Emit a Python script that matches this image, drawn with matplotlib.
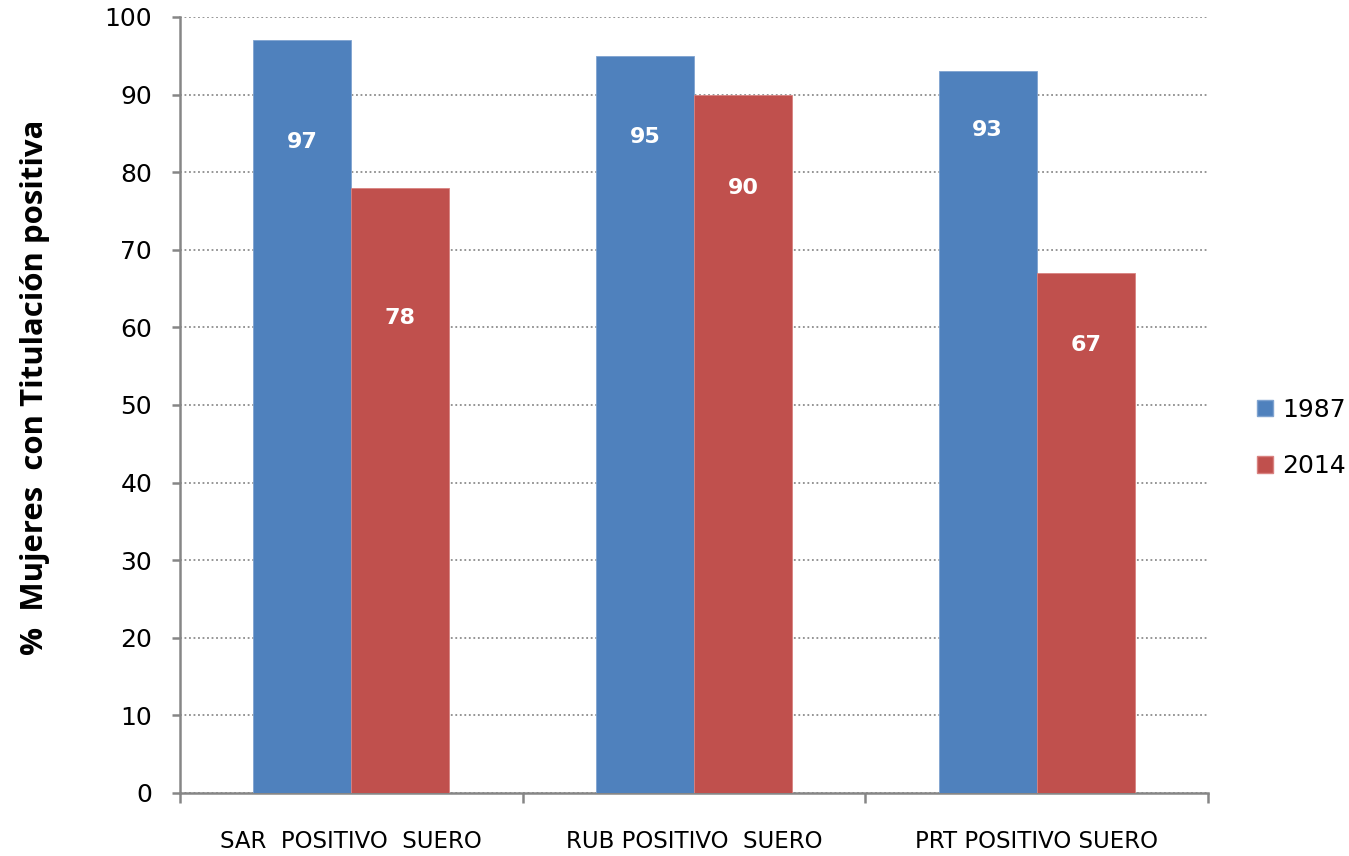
import matplotlib
matplotlib.use("Agg")
import matplotlib.pyplot as plt
from matplotlib.patches import Patch
import numpy as np

categories = ["SAR  POSITIVO  SUERO", "RUB POSITIVO  SUERO", "PRT POSITIVO SUERO"]
series_names = ["1987", "2014"]
values_1987 = [97, 95, 93]
values_2014 = [78, 90, 67]
y_ticks = [0, 10, 20, 30, 40, 50, 60, 70, 80, 90, 100]
y_label = "%  Mujeres  con Titulación positiva"

# heights at which the value labels sit inside the bars
label_y_1987 = [83.9, 84.5, 85.4]
label_y_2014 = [61.2, 78.0, 57.7]

blue = "#4F81BD"
red = "#C0504D"
axis_gray = "#868686"

fig = plt.figure(figsize=(13.49, 8.56), dpi=100)
ax = fig.add_axes([180 / 1349, 1 - 793 / 856, (1208 - 180) / 1349, (793 - 17) / 856])

x = np.arange(len(categories))
w = 0.286
ax.bar(x - w / 2, values_1987, w, color=blue, edgecolor="#7FA3D0", linewidth=0.6, zorder=3)
ax.bar(x + w / 2, values_2014, w, color=red, edgecolor="#D98280", linewidth=0.6, zorder=3)

for xi, v, ly in zip(x - w / 2, values_1987, label_y_1987):
    ax.text(xi, ly, f"{v}", ha="center", va="center", color="white",
            fontsize=16, fontweight="bold", zorder=4)
for xi, v, ly in zip(x + w / 2, values_2014, label_y_2014):
    ax.text(xi, ly, f"{v}", ha="center", va="center", color="white",
            fontsize=16, fontweight="bold", zorder=4)

ax.set_xlim(-0.5, len(categories) - 0.5)
ax.set_ylim(0, 100)
ax.set_yticks(y_ticks)
ax.set_yticklabels([str(t) for t in y_ticks], fontsize=18)
ax.yaxis.grid(True, linestyle=(0, (1, 1.5)), color="#8C8C8C", linewidth=1.3, zorder=0)
ax.set_axisbelow(True)

ax.set_xticks(x)
ax.set_xticklabels(categories, fontsize=16.5)
ax.set_xticks(np.arange(len(categories) + 1) - 0.5, minor=True)
ax.tick_params(axis="x", which="major", length=0, pad=27)
ax.tick_params(axis="x", which="minor", length=7, width=1.8, color=axis_gray, direction="out")
ax.tick_params(axis="y", length=6, width=1.8, color=axis_gray, direction="out", pad=14)

for side in ["top", "right"]:
    ax.spines[side].set_visible(False)
for side in ["left", "bottom"]:
    ax.spines[side].set_color(axis_gray)
    ax.spines[side].set_linewidth(1.8)

fig.text(35 / 1349, 1 - 387 / 856, y_label, rotation=90, ha="center", va="center",
         fontsize=22.4, fontweight="bold", family="Open Sans")

handles = [Patch(facecolor=blue, edgecolor="#7FA3D0"), Patch(facecolor=red, edgecolor="#D98280")]
fig.legend(handles, series_names, loc="center left", bbox_to_anchor=(1257 / 1349, 1 - 438 / 856),
           frameon=False, fontsize=18, handlelength=0.65, handleheight=0.65,
           handletextpad=0.35, labelspacing=1.3, borderpad=0, borderaxespad=0)

fig.savefig("out.png", dpi=100)
